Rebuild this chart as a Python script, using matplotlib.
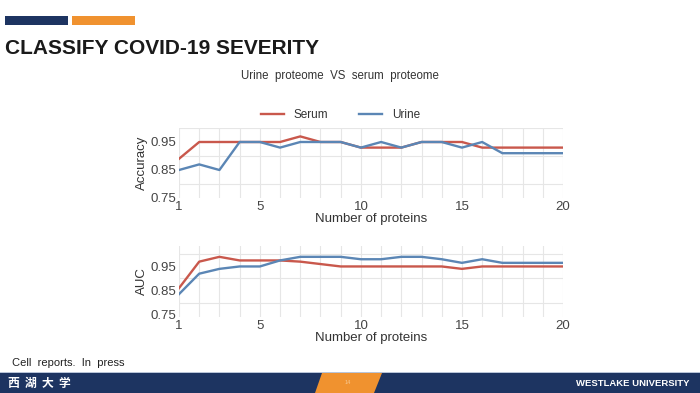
import numpy as np
import matplotlib.pyplot as plt
from matplotlib.patches import Polygon, Rectangle

plt.rcParams['font.family'] = ['Liberation Sans', 'DejaVu Sans', 'Noto Sans CJK SC']

n_proteins = list(range(1, 21))
acc_serum = [0.89, 0.95, 0.95, 0.95, 0.95, 0.95, 0.97, 0.95, 0.95, 0.93,
             0.93, 0.93, 0.95, 0.95, 0.95, 0.93, 0.93, 0.93, 0.93, 0.93]
acc_urine = [0.85, 0.87, 0.85, 0.95, 0.95, 0.93, 0.95, 0.95, 0.95, 0.93,
             0.95, 0.93, 0.95, 0.95, 0.93, 0.95, 0.91, 0.91, 0.91, 0.91]
auc_serum = [0.86, 0.97, 0.99, 0.975, 0.975, 0.975, 0.97, 0.96, 0.95, 0.95,
             0.95, 0.95, 0.95, 0.95, 0.94, 0.95, 0.95, 0.95, 0.95, 0.95]
auc_urine = [0.835, 0.92, 0.94, 0.95, 0.95, 0.975, 0.99, 0.99, 0.99, 0.98,
             0.98, 0.99, 0.99, 0.98, 0.965, 0.98, 0.965, 0.965, 0.965, 0.965]
yticks = [0.75, 0.85, 0.95]
xticks = [1, 5, 10, 15, 20]

red = "#c9584c"
blue = "#5b86b5"
navy = "#1d3461"
orange = "#f0922f"

fig = plt.figure(figsize=(7, 3.93), dpi=100)

# header bars
fig.patches.append(Rectangle((5/700, 1-25/393), 63/700, 9/393, transform=fig.transFigure,
                             color=navy, lw=0))
fig.patches.append(Rectangle((72/700, 1-25/393), 63/700, 9/393, transform=fig.transFigure,
                             color=orange, lw=0))
fig.text(5/700, 1-48/393, "CLASSIFY COVID-19 SEVERITY", fontsize=15, fontweight="bold",
         va="center", ha="left", color="#1a1a1a")
fig.text(340/700, 1-76/393, "Urine  proteome  VS  serum  proteome", fontsize=8.3,
         va="center", ha="center", color="#333333")


def style_ax(ax, ylim, ylabel):
    ax.set_xlim(1, 20)
    ax.set_ylim(*ylim)
    ax.set_xticks(xticks)
    ax.set_yticks(yticks)
    ax.set_yticklabels(["0.75", "0.85", "0.95"])
    ax.set_xticks(n_proteins, minor=True)
    ax.set_yticks([0.8, 0.9, 1.0], minor=True)
    ax.grid(True, which="minor", color="#e6e6e6", lw=0.8)
    ax.grid(True, which="major", axis="x", color="#e6e6e6", lw=0.8)
    ax.set_axisbelow(True)
    for s in ax.spines.values():
        s.set_visible(False)
    ax.tick_params(which="both", length=0, labelsize=9.5, colors="#444444", pad=2)
    ax.set_xlabel("Number of proteins", fontsize=9.5, color="#333333", labelpad=0)
    ax.set_ylabel(ylabel, fontsize=9.5, color="#333333", labelpad=2)


ax1 = fig.add_axes([179/700, 1-198/393, 384/700, 70/393])
ax1.plot(n_proteins, acc_serum, color=red, lw=1.7, label="Serum")
ax1.plot(n_proteins, acc_urine, color=blue, lw=1.7, label="Urine")
style_ax(ax1, (0.75, 1.0), "Accuracy")
ax1.legend(loc="lower center", bbox_to_anchor=(0.42, 1.0), ncol=2, frameon=False,
           fontsize=8.5, handlelength=2.0, columnspacing=2.6, borderaxespad=0.2,
           labelcolor="#333333")

ax2 = fig.add_axes([179/700, 1-317/393, 384/700, 71/393])
ax2.plot(n_proteins, auc_serum, color=red, lw=1.7)
ax2.plot(n_proteins, auc_urine, color=blue, lw=1.7)
style_ax(ax2, (0.74, 1.035), "AUC")

fig.text(12/700, 1-363/393, "Cell  reports.  In  press", fontsize=8, va="center",
         ha="left", color="#222222")

# footer band
fig.patches.append(Rectangle((0, 0), 1, 20/393, transform=fig.transFigure, color=navy, lw=0))
fig.patches.append(Rectangle((0, 20/393), 1, 1.2/393, transform=fig.transFigure,
                             color="#b8c4d8", lw=0))
fig.patches.append(Polygon([(315/700, 0), (322/700, 20/393), (382/700, 20/393), (374/700, 0)],
                           closed=True, transform=fig.transFigure, color=orange, lw=0))
fig.text(348/700, 10/393, "14", fontsize=4, color="#f7c890", ha="center", va="center")
fig.text(8/700, 10/393, "西  湖  大  学", fontsize=8.5, color="white", ha="left", va="center",
         family=["Noto Sans CJK SC", "DejaVu Sans"], fontweight="bold")
fig.text(690/700, 10/393, "WESTLAKE UNIVERSITY", fontsize=6.8, color="white",
         ha="right", va="center", fontweight="bold")

fig.savefig("out.png", dpi=100)
